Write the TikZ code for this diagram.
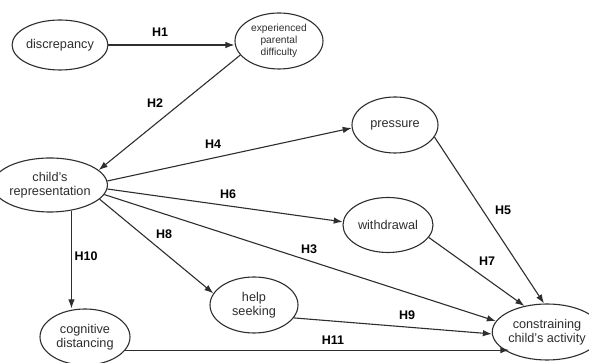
\documentclass[tikz,border=0pt]{standalone}
\usepackage{fontspec}
\setmainfont{Liberation Sans}
\usetikzlibrary{shapes.geometric,arrows.meta}
\definecolor{ink}{HTML}{2E2E2E}
\tikzset{
  var/.style={ellipse, draw=ink, line width=1.1pt, inner sep=0pt, align=center,
    text=ink, font=\fontsize{12.7}{14}\selectfont},
  hyp/.style={font=\bfseries\fontsize{12.5}{14}\selectfont, text=black, inner sep=0pt},
  arr/.style={draw=ink, line width=1.1pt, -{Latex[length=9pt,width=6.5pt]}}
}
\begin{document}
\begin{tikzpicture}[x=1pt,y=1pt]
\useasboundingbox (0,0) rectangle (589,363);
\fill[white] (0,0) rectangle (589,363);
% nodes (y = 363 - pixel y)
\node[var, minimum width=86pt, minimum height=50pt] (disc) at (60,318) {discrepancy};
\node[var, minimum width=88pt, minimum height=56pt, font=\fontsize{10.2}{12}\selectfont] (exp) at (279,322) {experienced\\parental\\difficulty};
\node[var, minimum width=86pt, minimum height=56pt] (pres) at (395,238) {pressure};
\node[var, minimum width=90pt, minimum height=54pt] (rep) at (50,178) {child's\\representation};
\node[var, minimum width=90pt, minimum height=55pt] (with) at (388,138) {withdrawal};
\node[var, minimum width=88pt, minimum height=56pt] (help) at (254,58) {help\\seeking};
\node[var, minimum width=90pt, minimum height=56pt] (cog) at (85,26) {cognitive\\distancing};
\node[var, minimum width=84pt, minimum height=56pt] (con) at (547,31) {constraining\\child's activity};
% connectors
\draw[arr] (disc.east) -- (disc.east -| exp.west);
\draw[arr] (exp.200) -- (rep.17);
\draw[arr] (rep.4) -- (pres.184);
\draw[arr] (rep.-4) -- (with.176);
\draw[arr] (rep.-10) -- (con.168);
\draw[arr] (rep.-16) -- (help.164);
\draw[arr] (rep.-50) -- (rep.-50 |- cog.north);
\draw[arr] (pres.-17) -- (con.96);
\draw[arr] (with.-17) -- (con.131);
\draw[arr] (help.-18) -- (con.182);
\draw[arr] (cog.-18) -- (cog.-18 -| con.209);
% labels
\node[hyp] (h1) at (160,331) {H1};
\node[hyp] (h2) at (155,260) {H2};
\node[hyp] (h4) at (213,219) {H4};
\node[hyp] (h6) at (228,169) {H6};
\node[hyp] (h8) at (164,129) {H8};
\node[hyp] (h10) at (86,107) {H10};
\node[hyp] (h3) at (309,114) {H3};
\node[hyp] (h5) at (503,153) {H5};
\node[hyp] (h7) at (487,102) {H7};
\node[hyp] (h9) at (407,48) {H9};
\node[hyp] (h11) at (333,23) {H11};
\end{tikzpicture}
\end{document}
